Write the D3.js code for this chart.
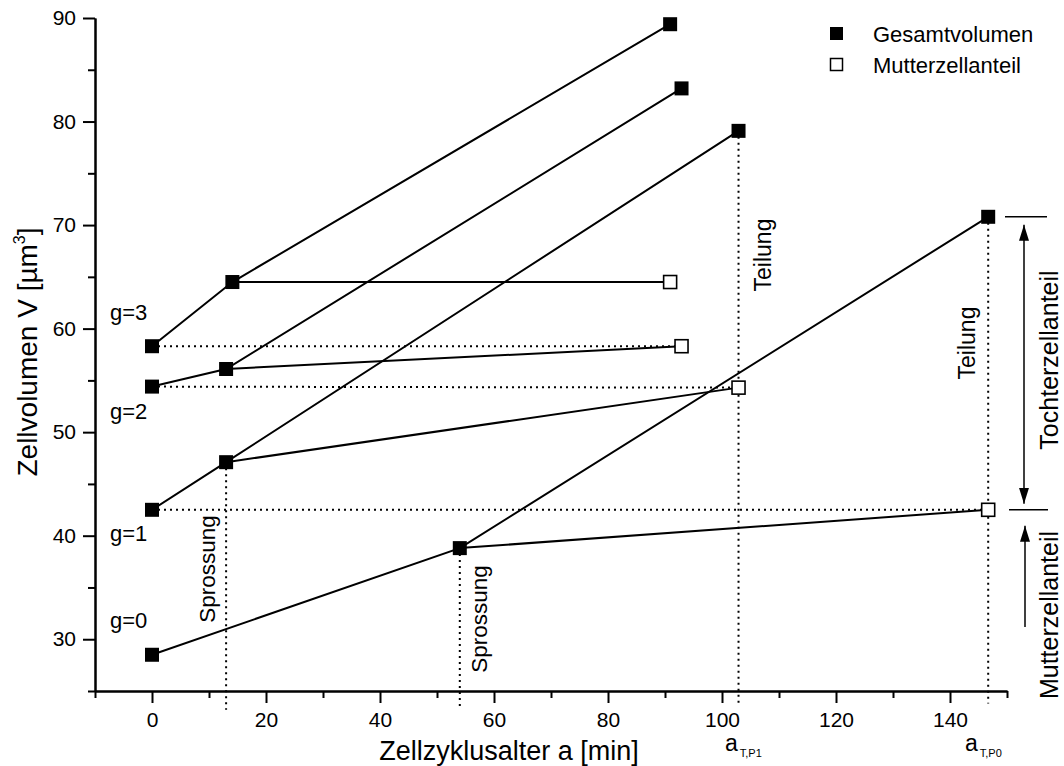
<!DOCTYPE html>
<html>
<head>
<meta charset="utf-8">
<script src="https://cdn.jsdelivr.net/npm/d3@7"></script>
<style>
  html, body { margin: 0; padding: 0; background: #fff; }
  svg { display: block; font-family: "Liberation Sans", Arial, Helvetica, sans-serif; }
</style>
</head>
<body>
<svg id="chart" width="1064" height="766"></svg>
<script>
// ---------------- data ----------------
const generations = ["g=3", "g=2", "g=1", "g=0"];
const ageStart   = [0, 0, 0, 0];               // min
const volStart   = [58.3, 54.4, 42.5, 28.5];   // µm³ at birth
const ageBud     = [14.1, 13.0, 13.0, 54.0];   // budding age (Sprossung)
const volBud     = [64.5, 56.1, 47.1, 38.8];   // volume at budding
const ageDiv     = [90.9, 92.9, 102.9, 146.7]; // division age (Teilung)
const volDiv     = [89.4, 83.2, 79.1, 70.8];   // total volume at division
const volMother  = [64.5, 58.3, 54.3, 42.5];   // mother-cell part at division
const xTicksMajor = [0, 20, 40, 60, 80, 100, 120, 140];
const xTicksMinor = [-10, 10, 30, 50, 70, 90, 110, 130, 150];
const yTicksMajor = [30, 40, 50, 60, 70, 80, 90];
const yTicksMinor = [25, 35, 45, 55, 65, 75, 85];
const legendLabels = ["Gesamtvolumen", "Mutterzellanteil"];

// ---------------- scales ----------------
const svg = d3.select("#chart");
const x = d3.scaleLinear().domain([-10, 150]).range([95, 1007]);
const y = d3.scaleLinear().domain([25, 90]).range([691, 18]);
const FONT_TICK = 21;

// ---------------- axes ----------------
function styleAxis(g) {
  g.select(".domain").attr("stroke", "#000").attr("stroke-width", 2);
  g.selectAll(".tick line").attr("stroke", "#000").attr("stroke-width", 2);
  g.selectAll(".tick text").attr("fill", "#000").style("font-size", FONT_TICK + "px");
}
const xAxisG = svg.append("g").attr("transform", `translate(0,${y(25)})`)
  .call(d3.axisBottom(x).tickValues(xTicksMajor).tickSize(12).tickSizeOuter(0).tickPadding(9).tickFormat(d3.format("d")));
styleAxis(xAxisG);
const xMinorG = svg.append("g").attr("transform", `translate(0,${y(25)})`)
  .call(d3.axisBottom(x).tickValues(xTicksMinor).tickSize(7).tickSizeOuter(0).tickFormat(""));
styleAxis(xMinorG);

const yAxisG = svg.append("g").attr("transform", `translate(${x(-10)},0)`)
  .call(d3.axisLeft(y).tickValues(yTicksMajor).tickSize(12).tickSizeOuter(0).tickPadding(7).tickFormat(d3.format("d")));
styleAxis(yAxisG);
const yMinorG = svg.append("g").attr("transform", `translate(${x(-10)},0)`)
  .call(d3.axisLeft(y).tickValues(yTicksMinor).tickSize(7).tickSizeOuter(0).tickFormat(""));
styleAxis(yMinorG);

// axis titles
svg.append("text").attr("x", 509).attr("y", 760).attr("text-anchor", "middle")
  .style("font-size", "27px").text("Zellzyklusalter a [min]");
const yl = svg.append("text").attr("transform", "translate(37,352) rotate(-90)")
  .attr("text-anchor", "middle").style("font-size", "28px");
yl.append("tspan").text("Zellvolumen V [µm");
yl.append("tspan").attr("dy", -12).style("font-size", "16px").text("3");
yl.append("tspan").attr("dy", 12).text("]");

// ---------------- dotted guide lines ----------------
const dotted = svg.append("g").attr("stroke", "#000").attr("stroke-width", 2)
  .attr("stroke-dasharray", "2,4").attr("fill", "none");
// horizontal: birth volume of generation g equals mother part of generation g+1
for (let i = 0; i < 3; i++) {
  dotted.append("line")
    .attr("x1", x(ageStart[i])).attr("y1", y(volStart[i]))
    .attr("x2", x(ageDiv[i + 1])).attr("y2", y(volMother[i + 1]));
}
// vertical: budding (g=1, g=0) and division (g=1, g=0)
const vDrops = [
  [ageBud[2], volBud[2], 23.2],
  [ageBud[3], volBud[3], 23.4],
  [ageDiv[2], volDiv[2], 23.8],
  [ageDiv[3], volDiv[3], 23.8]
];
vDrops.forEach(d => dotted.append("line")
  .attr("x1", x(d[0])).attr("y1", y(d[1]))
  .attr("x2", x(d[0])).attr("y2", y(d[2])));

// ---------------- solid lines ----------------
const solid = svg.append("g").attr("stroke", "#000").attr("stroke-width", 2).attr("fill", "none");
const line = d3.line().x(d => x(d[0])).y(d => y(d[1]));
generations.forEach((g, i) => {
  solid.append("path").attr("d", line([[ageStart[i], volStart[i]], [ageBud[i], volBud[i]], [ageDiv[i], volDiv[i]]]));
  solid.append("path").attr("d", line([[ageBud[i], volBud[i]], [ageDiv[i], volMother[i]]]));
});

// ---------------- markers ----------------
const S = 14, So = 13;
const filledPts = [];
generations.forEach((g, i) => {
  filledPts.push([ageStart[i], volStart[i]], [ageBud[i], volBud[i]], [ageDiv[i], volDiv[i]]);
});
svg.append("g").selectAll("rect").data(filledPts).join("rect")
  .attr("x", d => x(d[0]) - S / 2).attr("y", d => y(d[1]) - S / 2)
  .attr("width", S).attr("height", S).attr("fill", "#000");
svg.append("g").selectAll("rect").data(generations.map((g, i) => [ageDiv[i], volMother[i]])).join("rect")
  .attr("x", d => x(d[0]) - So / 2).attr("y", d => y(d[1]) - So / 2)
  .attr("width", So).attr("height", So).attr("fill", "#fff").attr("stroke", "#000").attr("stroke-width", 1.6);

// generation labels
const genLabelY = [320, 419, 541, 628];
generations.forEach((g, i) => {
  svg.append("text").attr("x", 110).attr("y", genLabelY[i]).style("font-size", "22px").text(g);
});

// ---------------- rotated annotations ----------------
function rotText(tx, ty, txt, size) {
  svg.append("text").attr("transform", `translate(${tx},${ty}) rotate(-90)`)
    .attr("text-anchor", "middle").style("font-size", size + "px").text(txt);
}
rotText(215, 569, "Sprossung", 22.5);
rotText(487, 619, "Sprossung", 22.5);
rotText(771, 255, "Teilung", 23);
rotText(975, 343, "Teilung", 23);
rotText(1058, 360, "Tochterzellanteil", 25);
rotText(1058, 615, "Mutterzellanteil", 25);

// a_T labels
function subLabel(px, py, sub) {
  const t = svg.append("text").attr("x", px).attr("y", py).style("font-size", "23px");
  t.append("tspan").text("a");
  t.append("tspan").attr("dx", 2).attr("dy", 6).style("font-size", "11px").text(sub);
}
subLabel(725, 751, "T,P1");
subLabel(965, 751, "T,P0");

// ---------------- right-side bracket / arrows ----------------
const ann = svg.append("g").attr("stroke", "#000").attr("stroke-width", 1.5);
ann.append("line").attr("x1", 1005).attr("x2", 1047).attr("y1", y(volDiv[3])).attr("y2", y(volDiv[3]));
ann.append("line").attr("x1", 1009).attr("x2", 1048).attr("y1", y(volMother[3])).attr("y2", y(volMother[3]));
const defs = svg.append("defs");
defs.append("marker").attr("id", "ah").attr("viewBox", "0 0 16 10").attr("refX", 16).attr("refY", 5)
  .attr("markerWidth", 16).attr("markerHeight", 10).attr("markerUnits", "userSpaceOnUse")
  .attr("orient", "auto-start-reverse")
  .append("path").attr("d", "M0,0 L16,5 L0,10 z").attr("fill", "#000").attr("stroke", "none");
ann.append("line").attr("x1", 1024).attr("x2", 1024)
  .attr("y1", y(volDiv[3]) + 8).attr("y2", y(volMother[3]) - 6)
  .attr("marker-start", "url(#ah)").attr("marker-end", "url(#ah)");
ann.append("line").attr("x1", 1025).attr("x2", 1025)
  .attr("y1", 627).attr("y2", y(volMother[3]) + 16)
  .attr("marker-end", "url(#ah)");

// ---------------- legend ----------------
const lg = svg.append("g");
lg.append("rect").attr("x", 830).attr("y", 27).attr("width", 13).attr("height", 13).attr("fill", "#000");
lg.append("rect").attr("x", 830.5).attr("y", 58.5).attr("width", 12).attr("height", 12)
  .attr("fill", "#fff").attr("stroke", "#000").attr("stroke-width", 1.5);
lg.append("text").attr("x", 873).attr("y", 41.5).style("font-size", "22px").text(legendLabels[0]);
lg.append("text").attr("x", 873).attr("y", 72.5).style("font-size", "22px").text(legendLabels[1]);
</script>
</body>
</html>
